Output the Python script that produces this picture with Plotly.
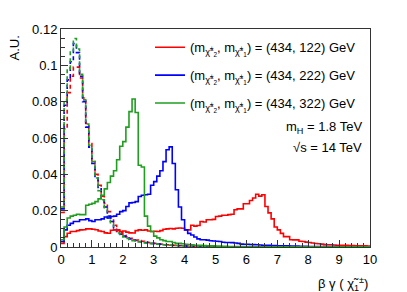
import numpy as np
import plotly.graph_objects as go

# ---------------- data (bin width 0.1 from 0 to 10) ----------------
x_lo, x_hi, n_bins = 0.0, 10.0, 100

red_solid = [0.002, 0.0057, 0.0076, 0.0085, 0.0085, 0.009, 0.0094, 0.0095, 0.010, 0.010,
             0.0098, 0.0095, 0.0088, 0.0085, 0.0078, 0.0076, 0.0092, 0.0094, 0.009, 0.0085,
             0.0088, 0.0082, 0.0078, 0.0077, 0.009, 0.0094, 0.0092, 0.0094, 0.0088, 0.0085,
             0.0087, 0.0085, 0.009, 0.0098, 0.010, 0.0102, 0.010, 0.0103, 0.0105, 0.0103,
             0.0094, 0.0094, 0.012, 0.0115, 0.0118, 0.014, 0.0138, 0.015, 0.015, 0.0152,
             0.0168, 0.017, 0.0175, 0.0175, 0.0178, 0.018, 0.0205, 0.021, 0.021, 0.0238,
             0.0238, 0.0256, 0.027, 0.029, 0.028, 0.0288, 0.0223, 0.0188, 0.0155, 0.011,
             0.0094, 0.0075, 0.0057, 0.0057, 0.004, 0.0039, 0.0039, 0.0032, 0.003, 0.0027,
             0.0025, 0.0022, 0.0019, 0.0018, 0.0016, 0.0013, 0.0012, 0.0012, 0.0011, 0.001,
             0.001, 0.0009, 0.0009, 0.0008, 0.0008, 0.0007, 0.0007, 0.0006, 0.0006, 0.0005]

blue_solid = [0.003, 0.0094, 0.012, 0.013, 0.014, 0.014, 0.015, 0.015, 0.0155, 0.0145,
              0.014, 0.015, 0.015, 0.0155, 0.0165, 0.016, 0.0168, 0.017, 0.018, 0.0195,
              0.020, 0.0223, 0.0243, 0.0245, 0.025, 0.0278, 0.0285, 0.0288, 0.029, 0.034,
              0.036, 0.039, 0.042, 0.047, 0.0535, 0.0551, 0.046, 0.0315, 0.022, 0.015,
              0.0094, 0.0075, 0.0066, 0.0055, 0.0045, 0.004, 0.004, 0.0038, 0.0034, 0.0033,
              0.0032, 0.003, 0.0026, 0.0025, 0.0025, 0.0024, 0.0022, 0.002, 0.0016, 0.0015,
              0.0015, 0.0014, 0.0013, 0.0012, 0.0011, 0.001, 0.001, 0.0009, 0.0008, 0.0008,
              0.0007, 0.0007, 0.0006, 0.0006, 0.0005, 0.0005, 0.0005, 0.0004, 0.0004, 0.0004,
              0.0003, 0.0003, 0.0003, 0.0003, 0.0002, 0.0002, 0.0002, 0.0002, 0.0002, 0.0002,
              0.0001, 0.0001, 0.0001, 0.0001, 0.0001, 0.0001, 0.0001, 0.0001, 0.0001, 0.0001]

green_solid = [0.004, 0.011, 0.016, 0.017, 0.0175, 0.018, 0.0178, 0.0178, 0.023, 0.0235,
               0.024, 0.025, 0.0265, 0.0285, 0.032, 0.0355, 0.039, 0.042, 0.048, 0.0555,
               0.058, 0.066, 0.0745, 0.0815, 0.074, 0.045, 0.044, 0.017, 0.0115, 0.0085,
               0.006, 0.005, 0.004, 0.0035, 0.003, 0.003, 0.0025, 0.002, 0.002, 0.0018,
               0.0015, 0.0014, 0.0012, 0.001, 0.001, 0.0009, 0.0008, 0.0007, 0.0006, 0.0006,
               0.0005, 0.0005, 0.0004, 0.0004, 0.0003, 0.0003, 0.0003, 0.0002, 0.0002, 0.0002,
               0.0002, 0.0002, 0.0001, 0.0001, 0.0001, 0.0001, 0.0001, 0.0001, 0.0001, 0.0001,
               0.0001, 0.0001, 0.0001, 0.0001, 0.0001, 0.0001, 0.0001, 0.0001, 0.0001, 0.0001,
               0.0001, 0.0001, 0.0001, 0.0001, 0.0001, 0.0001, 0.0001, 0.0001, 0.0001, 0.0001,
               0.0001, 0.0001, 0.0001, 0.0001, 0.0001, 0.0001, 0.0001, 0.0001, 0.0001, 0.0001]

red_dashed = [0.019, 0.065, 0.085, 0.094, 0.099, 0.099, 0.093, 0.082, 0.068, 0.057,
              0.047, 0.040, 0.034, 0.028, 0.024, 0.0195, 0.016, 0.012, 0.0094, 0.0078,
              0.0065, 0.0055, 0.0048, 0.0042, 0.0038, 0.0035, 0.0032, 0.0028, 0.0025, 0.0022,
              0.002, 0.0018, 0.0016, 0.0014, 0.0012, 0.0011, 0.001, 0.0009, 0.0008, 0.0007,
              0.0006, 0.0005, 0.0004, 0.0004, 0.0003, 0.0003, 0.0002, 0.0002, 0.0002, 0.0001,
              0.0001, 0.0001, 0.0001, 0.0001, 0.0001, 0, 0, 0, 0, 0,
              0, 0, 0, 0, 0, 0, 0, 0, 0, 0,
              0, 0, 0, 0, 0, 0, 0, 0, 0, 0,
              0, 0, 0, 0, 0, 0, 0, 0, 0, 0,
              0, 0, 0, 0, 0, 0, 0, 0, 0, 0]

blue_dashed = [0.021, 0.078, 0.092, 0.102, 0.112, 0.107, 0.094, 0.080, 0.066, 0.055,
               0.046, 0.038, 0.032, 0.026, 0.022, 0.017, 0.014, 0.0105, 0.0085, 0.007,
               0.006, 0.005, 0.0044, 0.0038, 0.0034, 0.003, 0.0027, 0.0024, 0.0022, 0.002,
               0.0018, 0.0016, 0.0014, 0.0012, 0.0011, 0.001, 0.0009, 0.0008, 0.0007, 0.0006,
               0.0005, 0.0004, 0.0004, 0.0003, 0.0003, 0.0002, 0.0002, 0.0002, 0.0001, 0.0001,
               0.0001, 0.0001, 0.0001, 0, 0, 0, 0, 0, 0, 0,
               0, 0, 0, 0, 0, 0, 0, 0, 0, 0,
               0, 0, 0, 0, 0, 0, 0, 0, 0, 0,
               0, 0, 0, 0, 0, 0, 0, 0, 0, 0,
               0, 0, 0, 0, 0, 0, 0, 0, 0, 0]

green_dashed = [0.022, 0.081, 0.098, 0.108, 0.1148, 0.109, 0.095, 0.081, 0.0677, 0.056,
                0.047, 0.038, 0.031, 0.026, 0.021, 0.016, 0.0128, 0.0095, 0.0077, 0.0065,
                0.0055, 0.0047, 0.004, 0.0035, 0.003, 0.0028, 0.0025, 0.0022, 0.002, 0.0018,
                0.0017, 0.0015, 0.0013, 0.0012, 0.0011, 0.001, 0.0009, 0.0008, 0.0007, 0.0006,
                0.0005, 0.0004, 0.0004, 0.0003, 0.0003, 0.0002, 0.0002, 0.0002, 0.0001, 0.0001,
                0.0001, 0.0001, 0, 0, 0, 0, 0, 0, 0, 0,
                0, 0, 0, 0, 0, 0, 0, 0, 0, 0,
                0, 0, 0, 0, 0, 0, 0, 0, 0, 0,
                0, 0, 0, 0, 0, 0, 0, 0, 0, 0,
                0, 0, 0, 0, 0, 0, 0, 0, 0, 0]

labels = [
    "(m<sub>χ̃<sup>±</sup><sub>2</sub></sub>, m<sub>χ̃<sup>±</sup><sub>1</sub></sub>) = (434, 122) GeV",
    "(m<sub>χ̃<sup>±</sup><sub>2</sub></sub>, m<sub>χ̃<sup>±</sup><sub>1</sub></sub>) = (434, 222) GeV",
    "(m<sub>χ̃<sup>±</sup><sub>2</sub></sub>, m<sub>χ̃<sup>±</sup><sub>1</sub></sub>) = (434, 322) GeV",
]

RED, BLUE, GREEN = "#ff0000", "#0000ff", "#1f9e1f"
FONT = "Liberation Sans, Arial, sans-serif"

edges = np.linspace(x_lo, x_hi, n_bins + 1)


def step(vals):
    return list(edges), list(vals) + [vals[-1]]


fig = go.Figure()

for vals, col in [(red_dashed, RED), (blue_dashed, BLUE), (green_dashed, GREEN)]:
    xs, ys = step(vals)
    fig.add_trace(go.Scatter(x=xs, y=ys, mode="lines", line_shape="hv",
                             line=dict(color=col, width=1.6, dash="4px,3px"),
                             showlegend=False, hoverinfo="skip"))

for i, (vals, col) in enumerate([(red_solid, RED), (blue_solid, BLUE), (green_solid, GREEN)]):
    xs, ys = step(vals)
    fig.add_trace(go.Scatter(x=xs, y=ys, mode="lines", line_shape="hv",
                             line=dict(color=col, width=1.6),
                             name=labels[i], legendgroup=f"g{i}",
                             hoverinfo="skip"))

axis_common = dict(showline=True, linecolor="#333", linewidth=1, mirror=True,
                   ticks="inside", ticklen=7, tickcolor="#333", showgrid=False,
                   zeroline=False, tickfont=dict(family=FONT, size=13, color="black"))

# the page body has an 8px margin, so the figure is 8px smaller than the window
fig.update_layout(
    width=399, height=284,
    margin=dict(l=53, r=37, t=21, b=45),
    paper_bgcolor="white", plot_bgcolor="white",
    font=dict(family=FONT, size=13, color="black"),
    xaxis=dict(range=[0, 10], dtick=1, tick0=0,
               minor=dict(dtick=0.2, ticks="inside", ticklen=4, tickcolor="#333"),
               **axis_common),
    yaxis=dict(range=[0, 0.12], dtick=0.02, tick0=0,
               minor=dict(dtick=0.005, ticks="inside", ticklen=4, tickcolor="#333"),
               **axis_common),
    legend=dict(x=0.288, y=0.985, xanchor="left", yanchor="top",
                bgcolor="rgba(0,0,0,0)", borderwidth=0,
                font=dict(family=FONT, size=13), traceorder="grouped",
                tracegroupgap=8),
    annotations=[
        dict(text="A.U.", xref="paper", yref="paper", x=-0.15, y=0.98,
             xanchor="center", yanchor="top", textangle=-90, showarrow=False,
             font=dict(family=FONT, size=13)),
        dict(text="β γ ( χ̃<sub>1</sub><sup>±</sup>)", xref="paper", yref="paper",
             x=1.0, y=-0.17, xanchor="right", yanchor="middle", showarrow=False,
             font=dict(family=FONT, size=13)),
        dict(text="m<sub>H</sub> = 1.8 TeV", xref="paper", yref="paper",
             x=0.981, y=0.55, xanchor="right", yanchor="middle", showarrow=False,
             font=dict(family=FONT, size=13)),
        dict(text="√s = 14 TeV", xref="paper", yref="paper",
             x=0.981, y=0.458, xanchor="right", yanchor="middle", showarrow=False,
             font=dict(family=FONT, size=13)),
    ],
)

fig.write_html("out.html")
